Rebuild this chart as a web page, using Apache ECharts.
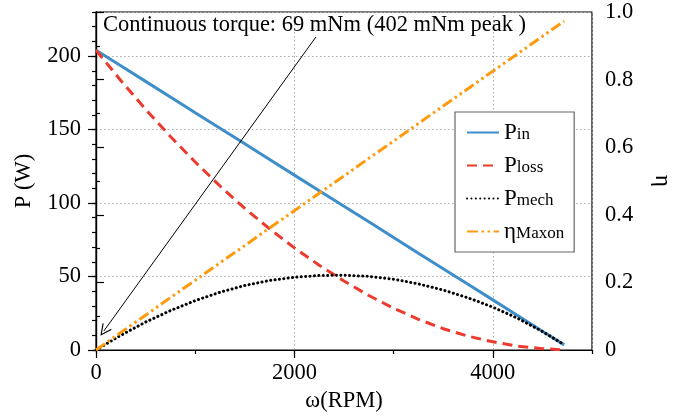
<!DOCTYPE html>
<html>
<head>
<meta charset="utf-8">
<script src="https://cdn.jsdelivr.net/npm/echarts@6/dist/echarts.min.js"></script>
<style>
  html, body { margin: 0; padding: 0; background: #fff; }
  #chart { width: 697px; height: 418px; }
</style>
</head>
<body>
<div id="chart"></div>
<script>
// motor speed (RPM) and the curves
const omega = [0, 250, 500, 750, 1000, 1250, 1500, 1750, 2000, 2250, 2500, 2750, 3000, 3250, 3500, 3750, 4000, 4250, 4500, 4720];
const pIn = [204, 193.4, 182.8, 172.1, 161.5, 150.9, 140.3, 129.7, 119.0, 108.4, 97.8, 87.2, 76.6, 65.9, 55.3, 44.7, 34.1, 23.5, 12.8, 3.5];
const pLoss = [204, 183.4, 163.8, 145.3, 127.9, 111.6, 96.4, 82.4, 69.5, 57.7, 46.9, 37.1, 28.4, 20.9, 14.5, 9.4, 5.6, 2.6, 0.9, 0.1];
const pMech = [0, 10.0, 19.0, 26.8, 33.6, 39.3, 43.9, 47.3, 49.5, 50.7, 50.9, 50.1, 48.2, 45.0, 40.8, 35.5, 29.2, 21.6, 12.6, 3.6];
const etaMaxon = [0, 0.052, 0.103, 0.155, 0.206, 0.258, 0.309, 0.361, 0.412, 0.464, 0.515, 0.567, 0.618, 0.670, 0.722, 0.773, 0.825, 0.876, 0.928, 0.973];

const seriesNames = ['Pin', 'Ploss', 'Pmech', 'ηMaxon'];
const legendLabels = { 'Pin': 'P{sub|in}', 'Ploss': 'P{sub|loss}', 'Pmech': 'P{sub|mech}', 'ηMaxon': 'η{sub|Maxon}' };

const noteText = 'Continuous torque: 69 mNm (402 mNm peak )';
const noteFrom = [2217, 213];
const noteTo = [80, 13];

const FONT = 'Liberation Serif';
const pairs = ys => omega.map((x, i) => [x, ys[i]]);

const chart = echarts.init(document.getElementById('chart'));

const labelStyle = { color: '#000', fontFamily: FONT, fontSize: 22.5 };

chart.setOption({
  animation: false,
  title: {
    text: noteText,
    left: 103, top: 14, padding: 0,
    textStyle: { color: '#000', fontFamily: FONT, fontSize: 22.5, fontWeight: 'normal' }
  },
  grid: { left: 96, right: 105, top: 12, bottom: 68, show: true, borderColor: '#000', borderWidth: 1.2, backgroundColor: 'transparent' },
  legend: {
    orient: 'vertical',
    left: 455, top: 112,
    padding: [9, 10, 9, 11],
    itemGap: 10,
    itemWidth: 32, itemHeight: 14,
    borderColor: '#666', borderWidth: 1.2,
    backgroundColor: '#fff',
    data: seriesNames,
    itemStyle: { opacity: 0 },
    formatter: name => legendLabels[name],
    textStyle: {
      color: '#000', fontFamily: FONT, fontSize: 23, lineHeight: 22,
      rich: { sub: { fontFamily: FONT, fontSize: 17, color: '#000', verticalAlign: 'bottom', lineHeight: 14 } }
    }
  },
  xAxis: [
    {
      type: 'value', min: 0, max: 5000, interval: 2000,
      name: 'ω(RPM)', nameLocation: 'middle', nameGap: 38,
      nameTextStyle: labelStyle,
      axisLine: { show: true, lineStyle: { color: '#000', width: 1.2 } },
      axisTick: { show: true, length: 8, lineStyle: { color: '#000', width: 1.2 } },
      axisLabel: { ...labelStyle, margin: 12, showMaxLabel: false, formatter: v => String(v) },
      splitLine: { show: true, lineStyle: { color: '#aaa', type: [1.5, 2.5], width: 1 } }
    },
    {
      type: 'value', min: 0, max: 5000, interval: 1000, position: 'bottom',
      axisLine: { show: false },
      axisTick: { show: true, length: 4, lineStyle: { color: '#000', width: 1.2 } },
      axisLabel: { show: false },
      splitLine: { show: false }
    }
  ],
  yAxis: [
    {
      type: 'value', min: 0, max: 230, interval: 50, position: 'left',
      name: 'P (W)', nameLocation: 'middle', nameGap: 60, nameRotate: 90,
      nameTextStyle: labelStyle,
      axisLine: { show: true, lineStyle: { color: '#000', width: 1.2 } },
      axisTick: { show: true, length: 8, lineStyle: { color: '#000', width: 1.2 } },
      axisLabel: { ...labelStyle, margin: 15, showMaxLabel: false },
      splitLine: { show: true, lineStyle: { color: '#aaa', type: [1.5, 2.5], width: 1 } }
    },
    {
      type: 'value', min: 0, max: 1, interval: 0.2, position: 'right',
      name: 'η', nameLocation: 'middle', nameGap: 58, nameRotate: -90,
      nameTextStyle: labelStyle,
      axisLine: { show: true, lineStyle: { color: '#000', width: 1.2 } },
      axisTick: { show: true, length: 8, lineStyle: { color: '#000', width: 1.2 } },
      minorTick: { show: true, splitNumber: 2, length: 4, lineStyle: { color: '#000', width: 1.2 } },
      axisLabel: { ...labelStyle, margin: 13, formatter: v => (v === 0 ? '0' : v.toFixed(1)) },
      splitLine: { show: false }
    },
    {
      type: 'value', min: 0, max: 230, interval: 10, position: 'left',
      axisLine: { show: false },
      axisTick: { show: true, length: 4, lineStyle: { color: '#000', width: 1.2 } },
      axisLabel: { show: false },
      splitLine: { show: false }
    }
  ],
  series: [
    {
      name: 'Pin', type: 'line', data: pairs(pIn), symbol: 'none', z: 3,
      lineStyle: { color: '#3d8ec9', width: 3 }, itemStyle: { color: '#3d8ec9' },
      markLine: {
        silent: true, animation: false,
        symbol: ['none', 'path://M0,0 L6,11 L5,11.8 L0,2.4 L-5,11.8 L-6,11 Z'],
        symbolSize: [11, 12],
        label: { show: false },
        lineStyle: { color: '#000', width: 1, type: 'solid' },
        data: [[{ coord: noteFrom }, { coord: noteTo }]]
      }
    },
    {
      name: 'Ploss', type: 'line', data: pairs(pLoss), symbol: 'none', z: 3,
      lineStyle: { color: '#ec3b2e', width: 3, type: [10, 6] }, itemStyle: { color: '#ec3b2e' }
    },
    {
      name: 'Pmech', type: 'line', data: pairs(pMech), symbol: 'none', z: 3,
      lineStyle: { color: '#000', width: 3, type: [0.1, 4.3], cap: 'round' }, itemStyle: { color: '#000' }
    },
    {
      name: 'ηMaxon', type: 'line', yAxisIndex: 1, data: pairs(etaMaxon), symbol: 'none', z: 3,
      lineStyle: { color: '#fe9b0c', width: 3, type: [11, 3.5, 2.5, 3.5, 2.5, 3.5] }, itemStyle: { color: '#fe9b0c' }
    }
  ]
});
</script>
</body>
</html>
